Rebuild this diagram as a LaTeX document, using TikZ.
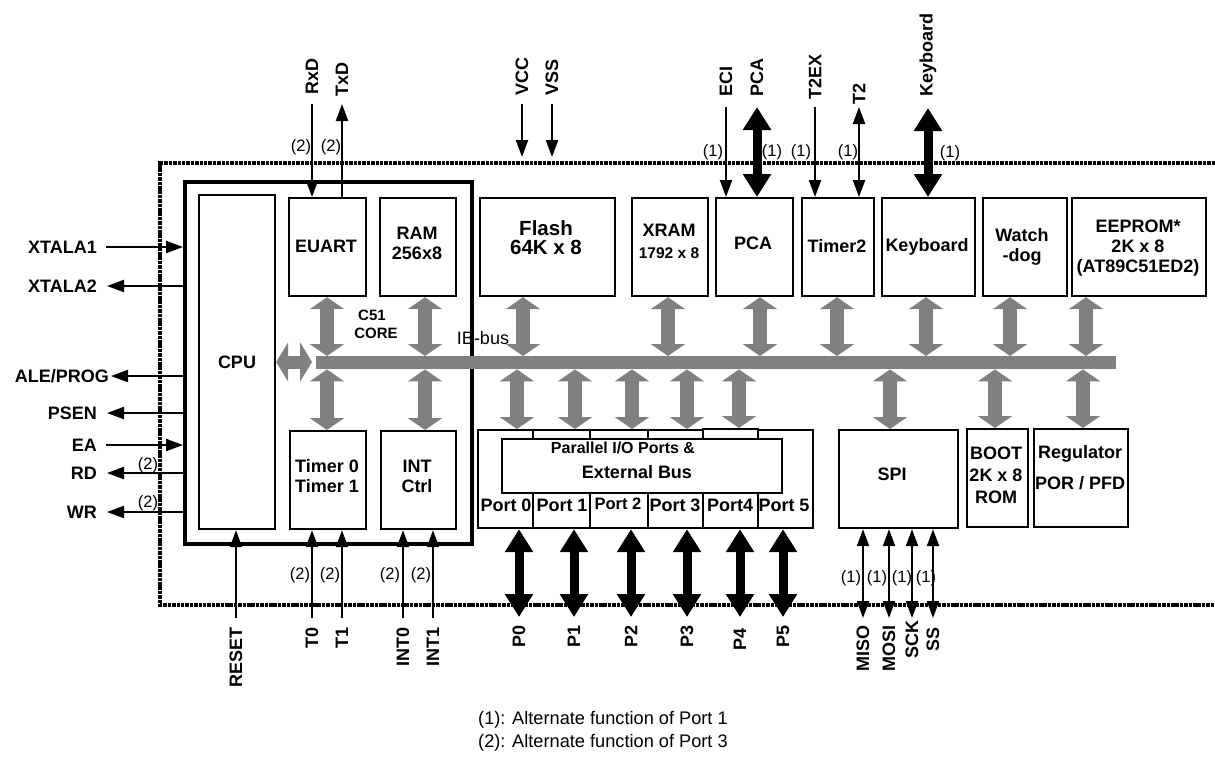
\documentclass[tikz,border=0pt]{standalone}
\usepackage{fontspec}
\setmainfont{Liberation Sans}
\usetikzlibrary{arrows.meta}
\newcommand{\fsz}[2]{\fontsize{#1}{#2}\selectfont}
\definecolor{busgray}{HTML}{808080}
\tikzset{
  blk/.style={draw, line width=2.2pt, inner sep=0pt, anchor=north west},
  lbl/.style={font=\bfseries\fsz{18}{20}, inner sep=0pt, align=center},
  note/.style={font=\fsz{16.5}{18}, inner sep=0pt},
  vlab/.style={lbl, rotate=90},
  sig/.style={line width=2.2pt, -{Triangle[length=17pt,width=12pt]}},
  sigb/.style={line width=2.2pt, {Triangle[length=17pt,width=12pt]}-{Triangle[length=17pt,width=12pt]}},
  fat/.style={line width=9pt, {Triangle[length=23pt,width=27pt]}-{Triangle[length=23pt,width=27pt]}},
  gar/.style={line width=14pt, draw=busgray, {Triangle[length=12pt,width=34pt]}-{Triangle[length=12pt,width=34pt]}},
  garh/.style={line width=13pt, draw=busgray, {Triangle[length=12pt,width=39pt]}-{Triangle[length=12pt,width=39pt]}},
  border/.style={line width=3.2pt, dash pattern=on 3.5pt off 0.9pt},
}
\begin{document}
\begin{tikzpicture}[x=1pt,y=-1pt]
\useasboundingbox (0,0) rectangle (1215,758);

% chip border (dotted)
\draw[border] (1215,163) -- (160,163) -- (160,605) -- (1215,605);

% C51 core box
\node[blk, line width=3.5pt, minimum width=287pt, minimum height=362pt] (c51) at (183,180) {};
\node[blk, minimum width=76pt, minimum height=334pt] (cpu) at (198,194) {};
\node[lbl] (tcpu) at (237,362) {CPU};
\node[blk, minimum width=77pt, minimum height=98pt] (euart) at (288,197) {};
\node[lbl] (teuart) at (326,246) {EUART};
\node[blk, minimum width=76pt, minimum height=98pt] (ram) at (379,197) {};
\node[lbl] (tram) at (417,243) {RAM\\256x8};
\node[blk, minimum width=76pt, minimum height=98pt] (timer01) at (289,430) {};
\node[lbl] (ttimer01) at (327,476) {Timer 0\\Timer 1};
\node[blk, minimum width=75pt, minimum height=98pt] (intc) at (380,430) {};
\node[lbl] (tintc) at (417,476) {INT\\Ctrl};
\node[font=\bfseries\fsz{15}{18}, inner sep=0pt, align=center] (tcore) at (372,324) {C51\\\hspace*{8pt}CORE};

% upper peripherals
\node[blk, minimum width=135pt, minimum height=98pt] (flash) at (479,197) {};
\node[font=\bfseries\fsz{20.5}{19}, inner sep=0pt, align=center] (tflash) at (546,238) {Flash\\64K x 8};
\node[blk, minimum width=76pt, minimum height=98pt] (xram) at (631,197) {};
\node[lbl] (txram) at (669,230) {XRAM};
\node[font=\bfseries\fsz{15.5}{18}, inner sep=0pt] (txram2) at (669,253) {1792 x 8};
\node[blk, minimum width=77pt, minimum height=98pt] (pca) at (715,197) {};
\node[lbl] (tpca) at (753,243) {PCA};
\node[blk, minimum width=72pt, minimum height=98pt] (timer2) at (801,197) {};
\node[lbl] (ttimer2) at (837,246) {Timer2};
\node[blk, minimum width=93pt, minimum height=98pt] (kbd) at (881,197) {};
\node[lbl] (tkbd) at (927,247) {Keyboard};
\node[blk, minimum width=84pt, minimum height=98pt] (wdog) at (982,197) {};
\node[lbl] (twdog) at (1022,247) {Watch\\-dog};
\node[blk, minimum width=134pt, minimum height=98pt] (eeprom) at (1071,197) {};
\node[lbl] (teeprom) at (1138,248) {EEPROM*\\2K x 8\\(AT89C51ED2)};

% bus
\node[fill=busgray, inner sep=0pt, minimum width=800pt, minimum height=13pt, anchor=north west] (bus) at (316,356) {};
\node[font=\fsz{18}{20}, inner sep=0pt] (tbus) at (483,338) {IB-bus};

% ports
\node[blk, minimum width=55pt, minimum height=98pt] (port0) at (477,429) {};
\node[blk, minimum width=57pt, minimum height=98pt] (port1) at (532,429) {};
\node[blk, minimum width=58pt, minimum height=98pt] (port2) at (589,429) {};
\node[blk, minimum width=55pt, minimum height=98pt] (port3) at (647,429) {};
\node[blk, minimum width=55pt, minimum height=99pt] (port4) at (702,428) {};
\node[blk, minimum width=55pt, minimum height=98pt] (port5) at (757,429) {};
\node[blk, fill=white, minimum width=280pt, minimum height=54pt] (pio) at (501,438) {};
\node[font=\bfseries\fsz{16}{18}, inner sep=0pt] (tpio1) at (623,448) {Parallel I/O Ports \&};
\node[lbl] (tpio2) at (637,472) {External Bus};
\node[lbl] (tp0) at (506,505) {Port 0};
\node[lbl] (tp1) at (562,505) {Port 1};
\node[font=\bfseries\fsz{16.5}{18}, inner sep=0pt] (tp2) at (618,504) {Port 2};
\node[lbl] (tp3) at (675,505) {Port 3};
\node[lbl] (tp4) at (730,505) {Port4};
\node[lbl] (tp5) at (784,505) {Port 5};

% lower right
\node[blk, minimum width=119pt, minimum height=98pt] (spi) at (838,429) {};
\node[lbl] (tspi) at (892,474) {SPI};
\node[blk, minimum width=61pt, minimum height=98pt] (boot) at (966,428) {};
\node[font=\bfseries\fsz{18}{22}, inner sep=0pt, align=center] (tboot) at (996,475) {BOOT\\2K x 8\\ROM};
\node[blk, minimum width=94pt, minimum height=98pt] (reg) at (1033,428) {};
\node[lbl] (treg1) at (1080,454) {Regulator};
\node[lbl] (treg2) at (1080,483) {POR / PFD};

% gray bus arrows
\foreach \n/\x in {euart/327, ram/425, flash/523, xram/668, pca/760, timer2/837, kbd/926, wdog/1010, eeprom/1086}{
  \coordinate (gu\n) at (\x,0);
  \draw[gar] (\n.south -| gu\n) -- (bus.north -| gu\n);
}
\foreach \n/\x in {timer01/327, intc/425, port0/517, port1/575, port2/632, port3/687, port4/739, spi/890, boot/995, reg/1083}{
  \coordinate (gl\n) at (\x,0);
  \draw[gar] (bus.south -| gl\n) -- (\n.north -| gl\n);
}
\coordinate (cpub) at (312,362);
\draw[garh] (cpu.east |- cpub) -- (cpub);

% left signals
\node[lbl, anchor=east] (lxt1) at (97,247) {XTALA1};
\coordinate (cxt1) at (106,247);
\draw[sig] (cxt1) -- (cxt1 -| c51.west);
\node[lbl, anchor=east] (lxt2) at (97,286) {XTALA2};
\coordinate (cxt2) at (107,286);
\draw[sig] (cxt2 -| c51.west) -- (cxt2);
\node[lbl, anchor=east] (lale) at (109,376) {ALE/PROG};
\coordinate (cale) at (111,376);
\draw[sig] (cale -| c51.west) -- (cale);
\node[lbl, anchor=east] (lpsen) at (97,413) {PSEN};
\coordinate (cpsen) at (107,413);
\draw[sig] (cpsen -| c51.west) -- (cpsen);
\node[lbl, anchor=east] (lea) at (97,445) {EA};
\coordinate (cea) at (106,445);
\draw[sig] (cea) -- (cea -| c51.west);
\node[lbl, anchor=east] (lrd) at (97,473) {RD};
\coordinate (crd) at (107,473);
\draw[sig] (crd -| c51.west) -- (crd);
\node[lbl, anchor=east] (lwr) at (97,512) {WR};
\coordinate (cwr) at (107,512);
\draw[sig] (cwr -| c51.west) -- (cwr);
\node[note] (nrd) at (148,465) {(2)};
\node[note] (nwr) at (148,503) {(2)};

% top signals
\node[vlab, anchor=west] (lrxd) at (312,95) {RxD};
\node[vlab, anchor=west] (ltxd) at (342,97) {TxD};
\coordinate (crxd) at (312,104);
\coordinate (ctxd) at (342,104);
\draw[sig] (crxd) -- (euart.north -| crxd);
\draw[sig] (euart.north -| ctxd) -- (ctxd);
\node[note] (nrxd) at (301,147) {(2)};
\node[note] (ntxd) at (331,147) {(2)};

\node[vlab, anchor=west] (lvcc) at (522,96) {VCC};
\node[vlab, anchor=west] (lvss) at (552,96) {VSS};
\coordinate (cvcc1) at (522,104); \coordinate (cvcc2) at (522,157);
\coordinate (cvss1) at (552,104); \coordinate (cvss2) at (552,157);
\draw[sig] (cvcc1) -- (cvcc2);
\draw[sig] (cvss1) -- (cvss2);

\node[vlab, anchor=west] (leci) at (726,97) {ECI};
\node[vlab, anchor=west] (lpca) at (757,97) {PCA};
\node[vlab, anchor=west] (lt2ex) at (815,100) {T2EX};
\node[vlab, anchor=west] (lt2) at (859,105) {T2};
\node[vlab, anchor=west] (lkbd) at (928,97) {Keyboard};
\coordinate (ceci) at (726,107);
\coordinate (cpca) at (757,107);
\coordinate (ct2ex) at (815,107);
\coordinate (ct2) at (859,107);
\coordinate (ckbd) at (928,108);
\draw[sig] (ceci) -- (pca.north -| ceci);
\draw[fat] (cpca) -- (pca.north -| cpca);
\draw[sig] (ct2ex) -- (timer2.north -| ct2ex);
\draw[sigb] (ct2) -- (timer2.north -| ct2);
\draw[fat] (ckbd) -- (kbd.north -| ckbd);
\node[note] (neci) at (713,152) {(1)};
\node[note] (npca) at (772,152) {(1)};
\node[note] (nt2ex) at (801,152) {(1)};
\node[note] (nt2) at (848,152) {(1)};
\node[note] (nkbd) at (950,153) {(1)};

% bottom signals
\foreach \n/\x/\t/\b in {reset/236/RESET/cpu, t0/312/T0/timer01, t1/342/T1/timer01, int0/403/INT0/intc, int1/433/INT1/intc}{
  \node[vlab, anchor=east] (l\n) at (\x,627) {\t};
  \coordinate (c\n) at (\x,618);
  \draw[sig] (c\n) -- (\b.south -| c\n);
}
\node[note] (nt0) at (300,575) {(2)};
\node[note] (nt1) at (330,575) {(2)};
\node[note] (nint0) at (390,575) {(2)};
\node[note] (nint1) at (421,575) {(2)};

% port pins
\foreach \n/\x/\t/\y in {port0/519/P0/625, port1/574/P1/625, port2/631/P2/625, port3/687/P3/625, port4/740/P4/628, port5/783/P5/625}{
  \node[vlab, anchor=east] (l\t) at (\x,\y) {\t};
  \coordinate (c\t) at (\x,617);
  \draw[fat] (\n.south -| c\t) -- (c\t);
}

% SPI pins
\foreach \t/\x/\y in {MISO/863/625, MOSI/889/625, SCK/912/620, SS/933/627}{
  \node[vlab, anchor=east] (l\t) at (\x,\y) {\t};
  \coordinate (c\t) at (\x,618);
  \draw[sigb] (spi.south -| c\t) -- (c\t);
}
\node[note] (nmiso) at (851,578) {(1)};
\node[note] (nmosi) at (877,578) {(1)};
\node[note] (nsck) at (902,578) {(1)};
\node[note] (nss) at (926,578) {(1)};

% footnotes
\node[font=\fsz{18.2}{20}, inner sep=0pt, anchor=west] (foot1) at (478,720) {(1): Alternate function of Port 1};
\node[font=\fsz{18.2}{20}, inner sep=0pt, anchor=west] (foot2) at (478,743) {(2): Alternate function of Port 3};
\end{tikzpicture}
\end{document}
